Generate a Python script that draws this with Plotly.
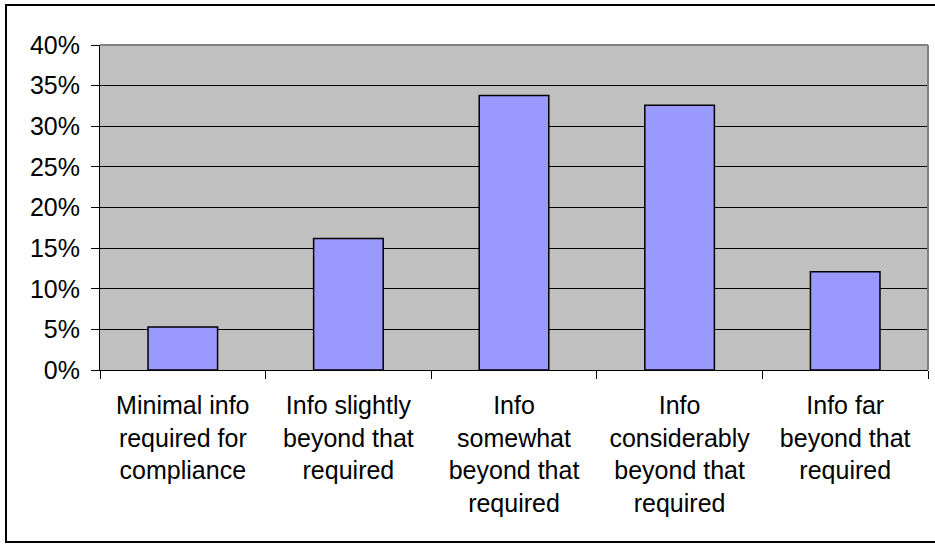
import plotly.graph_objects as go

categories = [
    "Minimal info<br>required for<br>compliance",
    "Info slightly<br>beyond that<br>required",
    "Info<br>somewhat<br>beyond that<br>required",
    "Info<br>considerably<br>beyond that<br>required",
    "Info far<br>beyond that<br>required",
]
values = [0.053, 0.162, 0.338, 0.326, 0.121]
y_ticks = [0, 0.05, 0.10, 0.15, 0.20, 0.25, 0.30, 0.35, 0.40]
y_ticklabels = ["0%", "5%", "10%", "15%", "20%", "25%", "30%", "35%", "40%"]

W, H = 935, 544
L, R, T, B = 100, 928, 45, 370

fig = go.Figure(go.Bar(
    x=categories, y=values,
    marker=dict(color="#9999FF", line=dict(color="#000000", width=1.5)),
    width=0.42,
))

pw, ph = R - L, B - T
def px_x(p):
    return (p - L) / pw
def px_y(p):
    return (B - p) / ph

fig.update_layout(
    width=W, height=H,
    margin=dict(l=L, r=W - R, t=T, b=H - B),
    paper_bgcolor="white",
    plot_bgcolor="#C0C0C0",
    showlegend=False,
    font=dict(family="Liberation Sans, Arial, sans-serif", size=25, color="black"),
    xaxis=dict(
        showline=True, linecolor="black", linewidth=1,
        ticks="outside", ticklen=8, tickcolor="black", tickson="boundaries",
        showgrid=False, tickfont=dict(size=25), ticklabelstandoff=13,
    ),
    yaxis=dict(
        range=[0, 0.40], tickvals=y_ticks, ticktext=y_ticklabels,
        showline=True, linecolor="black", linewidth=1,
        ticks="outside", ticklen=8, tickcolor="black",
        showgrid=True, gridcolor="#000000", gridwidth=1,
        zeroline=False, tickfont=dict(size=25), ticklabelstandoff=6,
    ),
    shapes=[
        dict(type="line", xref="paper", yref="paper", x0=0, x1=1, y0=1, y1=1,
             line=dict(color="#808080", width=2), layer="above"),
        dict(type="line", xref="paper", yref="paper", x0=1, x1=1, y0=0, y1=1,
             line=dict(color="#808080", width=2), layer="above"),
        dict(type="rect", xref="paper", yref="paper",
             x0=px_x(6), x1=px_x(940), y0=px_y(542), y1=px_y(5),
             line=dict(color="black", width=2), fillcolor="rgba(0,0,0,0)", layer="below"),
    ],
)

fig.write_html("out.html", config={"displayModeBar": False},
               post_script="document.body.style.margin='0px';document.body.style.overflow='hidden';")
